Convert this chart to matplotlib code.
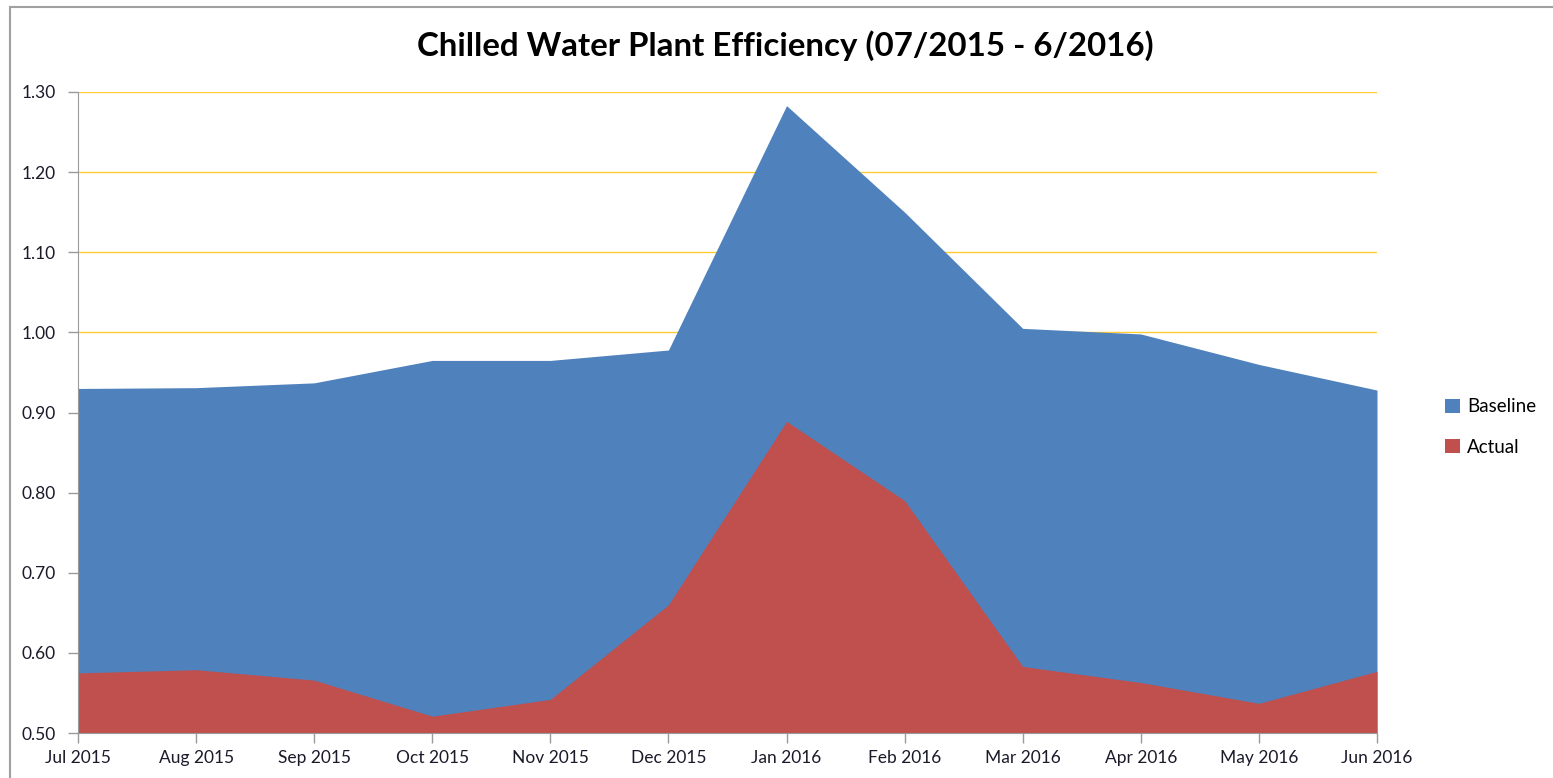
import matplotlib
matplotlib.use("Agg")
import matplotlib.pyplot as plt
from matplotlib.patches import Patch, Rectangle

months = ["Jul 2015", "Aug 2015", "Sep 2015", "Oct 2015", "Nov 2015", "Dec 2015",
          "Jan 2016", "Feb 2016", "Mar 2016", "Apr 2016", "May 2016", "Jun 2016"]
baseline = [0.930, 0.931, 0.937, 0.965, 0.965, 0.978, 1.283, 1.150, 1.005, 0.998, 0.960, 0.928]
actual = [0.575, 0.579, 0.566, 0.521, 0.542, 0.660, 0.889, 0.790, 0.583, 0.563, 0.537, 0.577]
yticks = [0.50, 0.60, 0.70, 0.80, 0.90, 1.00, 1.10, 1.20, 1.30]

plt.rcParams['font.family'] = ['Lato', 'DejaVu Sans']

W, H = 1553, 778
fig = plt.figure(figsize=(W / 100, H / 100), dpi=100)
ax = fig.add_axes([78 / W, (H - 733) / H, (1377 - 78) / W, (733 - 92) / H])

x = list(range(len(months)))
blue = '#4F81BD'
red = '#C0504D'
ax.fill_between(x, 0.5, baseline, color=blue, linewidth=0, zorder=2)
ax.fill_between(x, 0.5, actual, color=red, linewidth=0, zorder=3)

ax.set_xlim(0, len(months) - 1)
ax.set_ylim(0.5, 1.3)
ax.set_yticks(yticks)
ax.set_yticklabels([f"{v:.2f}" for v in yticks])
ax.set_xticks(x)
ax.set_xticklabels(months)
ax.yaxis.grid(True, color='#FFCC33', linewidth=1.0, zorder=1)
ax.set_axisbelow(True)
for s in ['top', 'right']:
    ax.spines[s].set_visible(False)
for s in ['left', 'bottom']:
    ax.spines[s].set_color('#9A9A9A')
    ax.spines[s].set_zorder(4)
ax.tick_params(axis='both', colors='#9A9A9A', length=7, width=1, labelcolor='#1A1A2A', labelsize=12.5)
ax.tick_params(axis='y', pad=9)
ax.tick_params(axis='x', pad=5)

fig.text(785 / W, 1 - 46 / H, "Chilled Water Plant Efficiency (07/2015 - 6/2016)",
         ha='center', va='center', fontsize=23.8, fontweight='bold', color='black')

handles = [Patch(facecolor=blue, label='Baseline'), Patch(facecolor=red, label='Actual')]
fig.legend(handles=handles, loc='center left', bbox_to_anchor=(1428 / W, 1 - 427 / H),
           frameon=False, fontsize=13.5, handlelength=0.8, handleheight=0.8,
           handletextpad=0.4, labelspacing=1.25)

fig.patches.append(Rectangle((10 / W, -0.05), 1.5, 1 - 6.5 / H + 0.05, transform=fig.transFigure,
                             fill=False, edgecolor='#A0A0A0', linewidth=1.5))

fig.savefig("out.png", dpi=100)
